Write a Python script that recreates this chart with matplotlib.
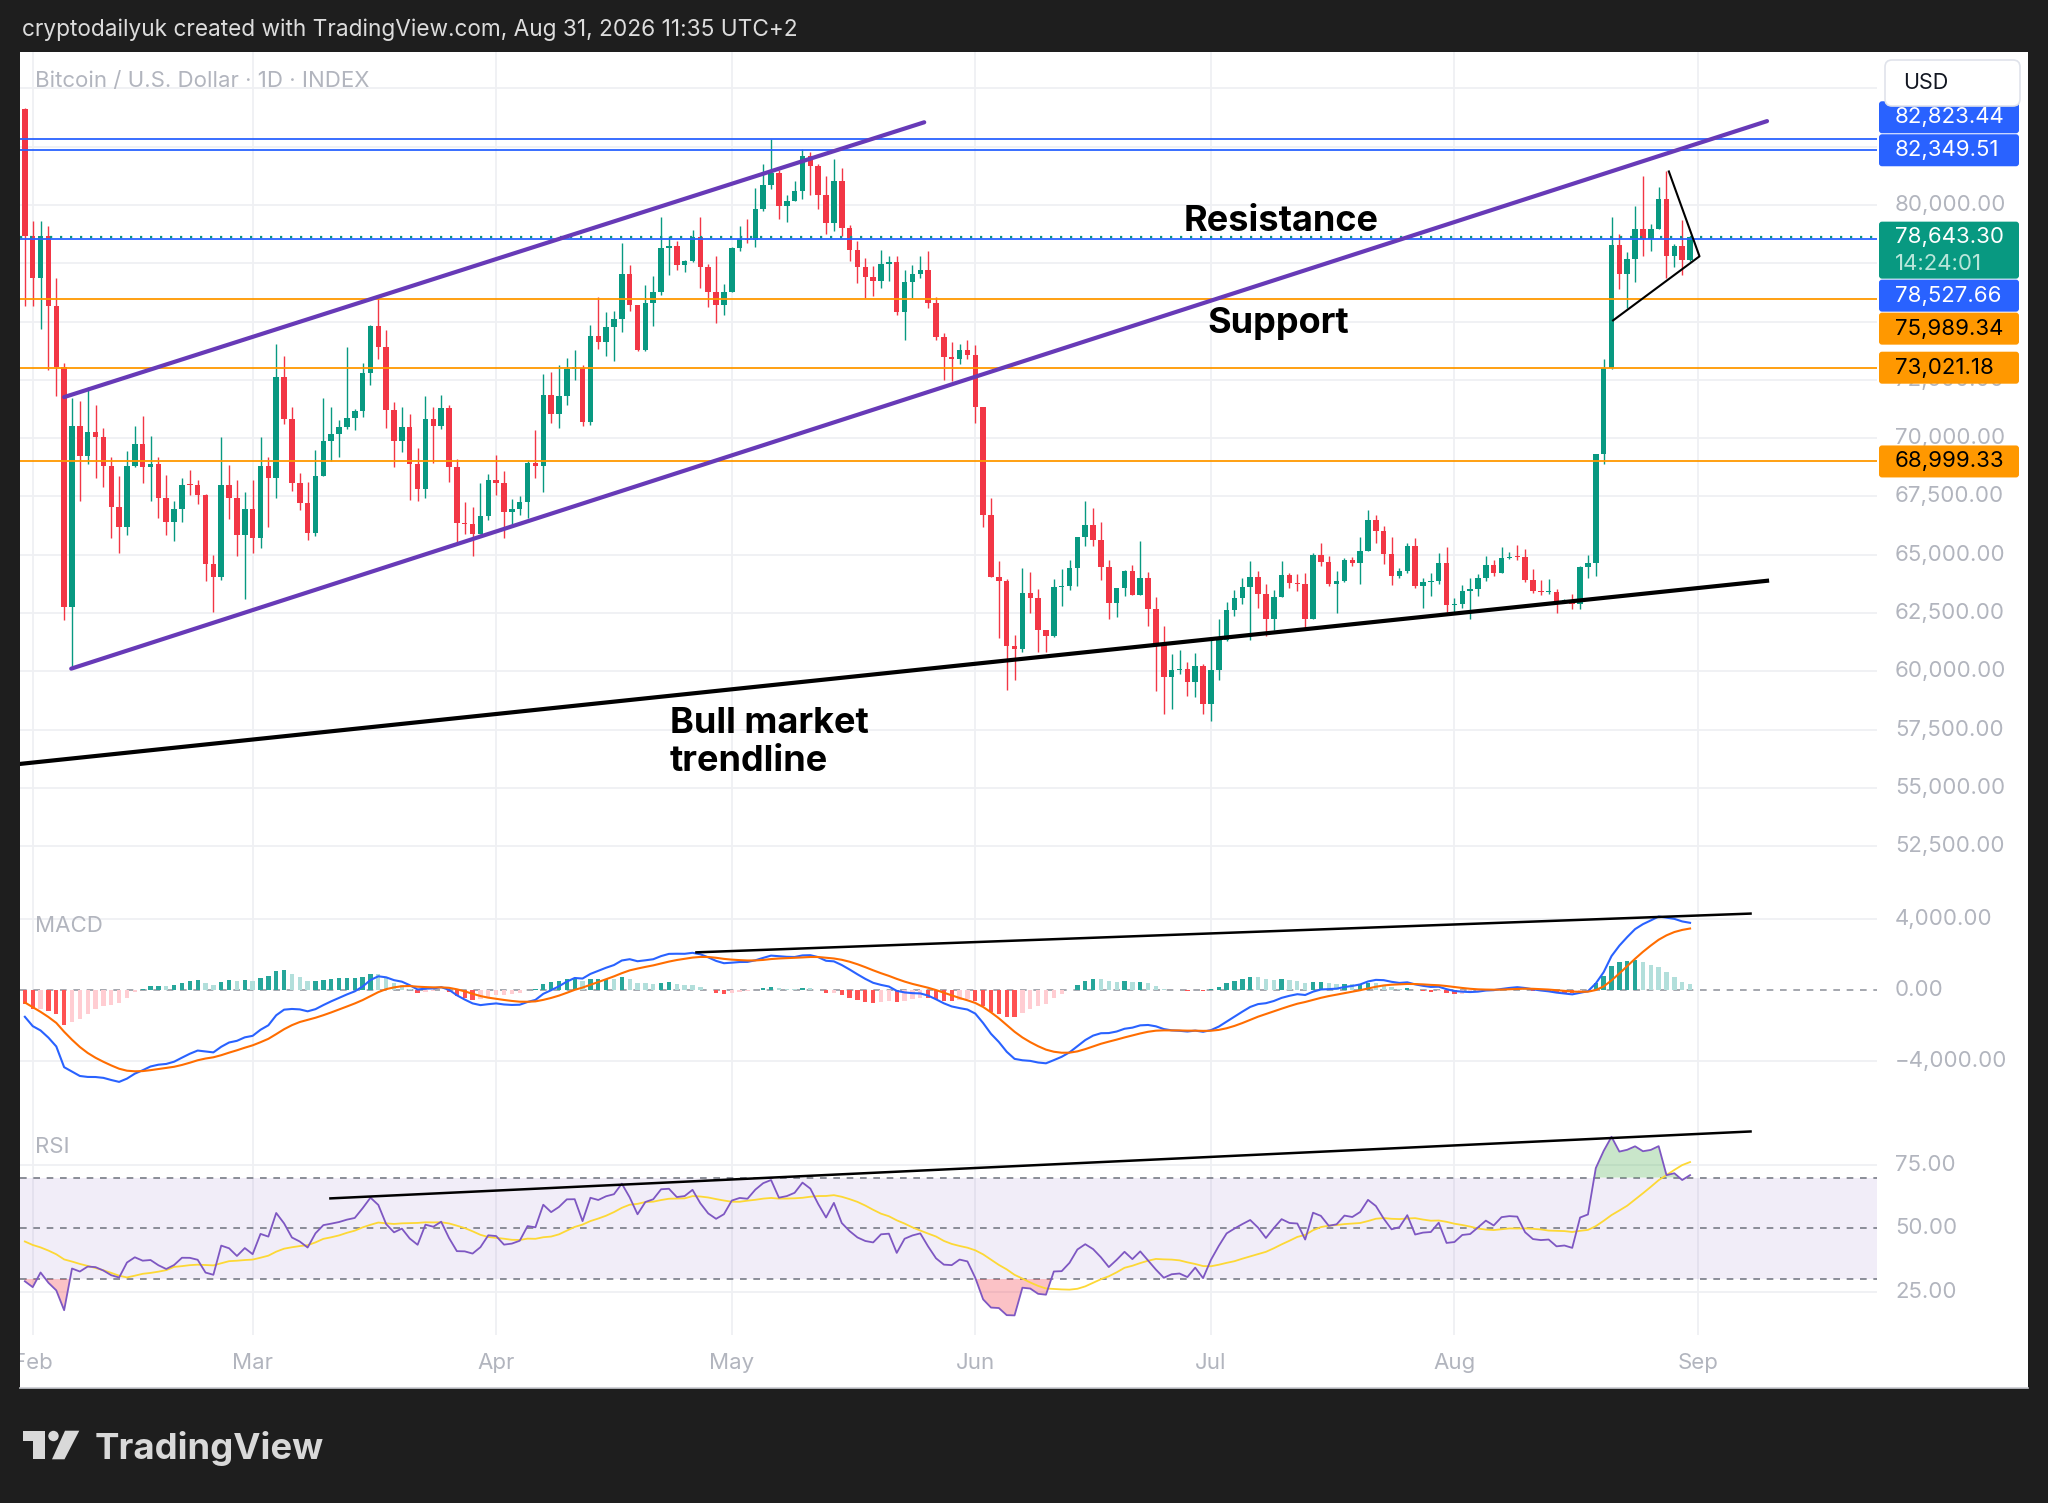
import numpy as np
import matplotlib
matplotlib.use("Agg")
import matplotlib.pyplot as plt
from matplotlib.patches import Rectangle, FancyBboxPatch, Polygon, Circle

plt.rcParams['font.family'] = ['Inter', 'DejaVu Sans']

W, H = 2048, 1503

# ---- daily candles, day 0 = Feb 1 2026, first value = Jan 31 ----
first_open = 84100
closes = [78660,
    # Feb
    76870, 78660, 75670, 73040, 62770, 70530, 69230, 70280, 70050, 68800,
    67040, 66170, 68800, 69760, 68770, 68880, 67450, 66390, 66960, 68000,
    67980, 67570, 64610, 64040, 68000, 67450, 65840, 66960,
    # Mar
    65730, 68800, 68310, 72630, 70820, 68060, 67210, 65930, 68360, 69890,
    70170, 70460, 70870, 71150, 72800, 74820, 73900, 71200, 69890, 70460,
    68880, 67820, 70820, 70500, 71280, 68770, 66340, 66300, 65890, 66670,
    68190,
    # Apr
    68080, 66820, 66940, 67250, 68940, 68800, 71860, 71040, 71800, 72970,
    72990, 70700, 74370, 74120, 74770, 75120, 77060, 75690, 73770, 75800,
    76280, 78160, 78260, 77420, 77590, 78620, 77330, 76280, 75700, 76280,
    # May
    78160, 78550, 78480, 79810, 80850, 81380, 79950, 80170, 80620, 82120,
    81670, 80450, 79240, 81050, 79020, 78090, 77330, 76900, 76730, 77490,
    77550, 75400, 76700, 77020, 77210, 75810, 74340, 73460, 73390, 73800,
    73580,
    # Jun
    71330, 66700, 64050, 63880, 61080, 60970, 63360, 63140, 61750, 61520,
    63610, 63640, 64420, 65740, 66290, 65630, 64460, 62910, 63570, 64320,
    63270, 63980, 62690, 61230, 59760, 60050, 60110, 59530, 60230, 58580,
    # Jul
    60050, 61330, 62610, 63130, 63610, 64050, 63320, 62260, 63200, 64130,
    63780, 63730, 62230, 64990, 64690, 63730, 63880, 64780, 64660, 65160,
    66480, 66020, 65020, 64090, 64280, 65380, 63660, 63830, 63880, 64660,
    62830,
    # Aug
    62900, 63450, 63520, 64020, 64550, 64210, 64840, 64920, 64890, 63920,
    63450, 63380, 63410, 62980, 63020, 62880, 64450, 64640, 69310, 72990,
    78280, 77030, 77680, 78960, 78560, 78990, 80250, 77820, 78250, 77650,
    78643.30]

highs = [84150,
    79320, 79320, 79120, 76890, 73210, 71730, 71610, 72190, 71400, 70450,
    69180, 68360, 69430, 70530, 70940, 70080, 69210, 68410, 67290, 68280,
    68650, 68190, 67620, 64990, 70030, 68850, 68190, 67700,
    68190, 70050, 69210, 74030, 73540, 71350, 68520, 68110, 69480, 71730,
    71350, 70770, 73900, 71270, 73210, 74850, 76000, 74640, 71560, 71350,
    71040, 69560, 71810, 71320, 71860, 71400, 69100, 67240, 67040, 68060,
    68470,
    69260, 68580, 67370, 67510, 69050, 70370, 72730, 72830, 73120, 73440,
    73800, 73120, 74870, 76060, 75400, 75470, 78350, 77420, 75690, 76590,
    76950, 79480, 78660, 78450, 77660, 78950, 79480, 77490, 77830, 76620,
    78180, 79090, 79410, 80740, 81770, 82820, 81520, 80410, 81020, 82410,
    82280, 81740, 81240, 81980, 81600, 79160, 78450, 77730, 77380, 78090,
    77810, 77830, 77210, 77430, 77800, 78020, 76060, 74490, 74120, 74020,
    74230,
    73980, 71330, 67430, 64710, 63940, 61550, 64420, 64270, 63540, 61730,
    63940, 64380, 64790, 65740, 67290, 66990, 66410, 64790, 63570, 64350,
    64570, 65600, 64270, 63170, 61920, 60750, 60890, 60380, 60790, 60300,
    61380, 62220, 62950, 63490, 63980, 64710, 64320, 63730, 63490, 64710,
    64230, 64160, 64230, 65090, 65490, 64950, 64310, 64840, 64880, 65770,
    66910, 66700, 66240, 65740, 64410, 65520, 65710, 63980, 64230, 65090,
    65350,
    63160, 63690, 63980, 64160, 64950, 64780, 65310, 65120, 65410, 65260,
    64380, 63920, 63950, 63520, 63090, 63310, 64520, 64980, 69310, 73390,
    79490, 78750, 77990, 79960, 81250, 79180, 80790, 81440, 78320, 79360,
    78680]

lows = [75670,
    75670, 74690, 72910, 71810, 62200, 60140, 67320, 68880, 68280, 67900,
    65730, 65070, 65860, 68740, 68060, 67290, 66580, 65860, 65600, 66420,
    67540, 67160, 63870, 62520, 63920, 66550, 64940, 63100,
    65070, 65270, 66170, 67450, 70610, 67750, 66930, 65650, 65810, 68360,
    69020, 69180, 70380, 70330, 70910, 72300, 73400, 70450, 68770, 69390,
    67340, 67320, 67450, 68930, 70410, 68110, 65560, 65890, 64960, 65980,
    66500,
    67540, 65720, 66290, 66720, 66580, 68300, 67680, 70660, 70440, 71400,
    72510, 70510, 70580, 73830, 73520, 73300, 74550, 75450, 73730, 73730,
    74800, 76120, 76980, 77230, 77130, 77550, 76450, 75630, 74950, 75300,
    76280, 78020, 78380, 78190, 79740, 80690, 79410, 79260, 80270, 80270,
    80410, 79840, 78740, 78880, 78660, 77590, 76660, 76020, 76090, 76450,
    76730, 75300, 74200, 76030, 76870, 75590, 74200, 72510, 72460, 73170,
    73390,
    70640, 66180, 64050, 61410, 59200, 59610, 60820, 62510, 60820, 60820,
    61480, 62800, 63490, 63640, 65380, 65380, 63910, 62260, 62320, 63240,
    63270, 63270, 61920, 59170, 58170, 58390, 59860, 58940, 58910, 58170,
    57880, 59640, 61290, 62390, 62880, 61330, 62700, 61520, 61770, 63170,
    63590, 63450, 61830, 62230, 64520, 63660, 62490, 63830, 64520, 63730,
    65140, 65520, 64590, 63690, 63980, 64230, 63550, 62730, 63230, 63730,
    62520,
    62520, 62730, 62260, 63230, 63880, 64090, 64230, 64810, 64780, 63810,
    63350, 63260, 63310, 62490, 62950, 62660, 62690, 63980, 64090, 68880,
    72960, 76390, 75600, 76680, 77820, 78030, 78960, 76850, 77360, 76990,
    77610]

month_names = ['Feb', 'Mar', 'Apr', 'May', 'Jun', 'Jul', 'Aug', 'Sep']
month_days = [0, 28, 59, 89, 120, 150, 181, 212]

blue_levels = [82823.44, 82349.51, 78527.66]
orange_levels = [75989.34, 73021.18, 68999.33]
last_price = 78643.30
countdown = '14:24:01'

# drawings (day, value)
chan_top_x, chan_top_y = [4, 113.5], [71760, 83550]
chan_bot_x, chan_bot_y = [4.9, 220.8], [60110, 83600]
bull_x, bull_y = [-2, 220.8], [56010, 63880]
wedge_x, wedge_y = [208.3, 212.2, 201.2], [81440, 77800, 75050]
macd_tr_x, macd_tr_y = [84.5, 218.7], [2130, 4320]
rsi_tr_x, rsi_tr_y = [37.9, 218.7], [61.8, 88.2]

# indicator warm-up state before Jan 31 (history not visible on chart)
ema12_seed, ema26_seed, signal_seed = 86000, 87000, -500
gain_seed, loss_seed, rsi_ma_seed = 500, 800, 46

closes = np.array(closes, float)
highs = np.array(highs, float)
lows = np.array(lows, float)
days = np.arange(-1, len(closes) - 1)
opens = np.r_[first_open, closes[:-1]]
highs = np.maximum(highs, np.maximum(opens, closes))
lows = np.minimum(lows, np.minimum(opens, closes))


def ema(vals, n, seed):
    out, e, a = [], seed, 2 / (n + 1)
    for v in vals:
        e = e + a * (v - e)
        out.append(e)
    return np.array(out)


macd = ema(closes, 12, ema12_seed) - ema(closes, 26, ema26_seed)
signal = ema(macd, 9, signal_seed)
hist = macd - signal
hprev = np.r_[hist[0], hist[:-1]]
hcols = np.where(hist >= 0, np.where(hist > hprev, '#26a69a', '#b2dfdb'),
                 np.where(hist > hprev, '#ffcdd2', '#ff5252'))

ag, al, rsi = gain_seed, loss_seed, []
for ch in np.diff(np.r_[first_open, closes]):
    ag = (ag * 13 + max(ch, 0)) / 14
    al = (al * 13 + max(-ch, 0)) / 14
    rsi.append(100 - 100 / (1 + ag / al))
rsi = np.array(rsi)
rsi_ma = np.convolve(np.r_[np.full(13, rsi_ma_seed), rsi], np.ones(14) / 14, 'valid')

UP, DOWN = '#089981', '#f23645'
GRID = '#eff0f3'
LBL = '#b2b5be'
DARK = '#1e1e1e'
PURPLE = '#673ab7'

fig = plt.figure(figsize=(W / 100, H / 100), dpi=100, facecolor='white')


def box(x0, y0, x1, y1):
    return [x0 / W, 1 - y1 / H, (x1 - x0) / W, (y1 - y0) / H]


ax = fig.add_axes(box(19.6, 52, 1877, 895))
axm = fig.add_axes(box(19.6, 895, 1877, 1115))
axr = fig.add_axes(box(19.6, 1115, 1877, 1335))
for a in (ax, axm, axr):
    a.set_xlim(-1.67, 234.8)
    a.set_xticks([])
    a.set_yticks([])
    for s in a.spines.values():
        s.set_visible(False)
    for m in month_days:
        a.axvline(m, color=GRID, lw=1.3, zorder=0)

# ---- main pane ----
ax.set_ylim(50400, 86565)
for v in range(52500, 87501, 2500):
    ax.axhline(v, color=GRID, lw=1.3, zorder=0)

col = np.where(closes >= opens, UP, DOWN)
ax.vlines(days, lows, highs, colors=col, lw=1.0, zorder=2)
ax.bar(days, np.maximum(np.abs(closes - opens), 60), bottom=np.minimum(opens, closes),
       width=0.7, color=col, linewidth=0, zorder=2.1)

for v in blue_levels:
    ax.axhline(v, color='#2962ff', lw=1.3, zorder=3)
for v in orange_levels:
    ax.axhline(v, color='#ff9800', lw=1.3, zorder=3)
ax.axhline(last_price, color=UP, lw=1.6, ls=(0, (1, 3.5)), zorder=3)

ax.plot(chan_top_x, chan_top_y, color=PURPLE, lw=3, solid_capstyle='round', zorder=4)
ax.plot(chan_bot_x, chan_bot_y, color=PURPLE, lw=3, solid_capstyle='round', zorder=4)
ax.plot(bull_x, bull_y, color='black', lw=3, zorder=4)
ax.plot(wedge_x, wedge_y, color='black', lw=1.5, zorder=4)

ax.text(159, 78900, 'Resistance', fontsize=26, fontweight='bold', ha='center', va='baseline', zorder=5)
ax.text(158.6, 74490, 'Support', fontsize=26, fontweight='bold', ha='center', va='baseline', zorder=5)
ax.text(81.1, 57362, 'Bull market', fontsize=26, fontweight='bold', ha='left', va='baseline', zorder=5)
ax.text(81.1, 55740, 'trendline', fontsize=26, fontweight='bold', ha='left', va='baseline', zorder=5)

# ---- MACD pane ----
axm.set_ylim(-7060, 5370)
for v in (4000, -4000):
    axm.axhline(v, color=GRID, lw=1.3, zorder=0)
axm.axhline(0, color='#9598a1', lw=1.2, ls=(0, (4, 4)), zorder=1)
axm.bar(days, hist, width=0.55, color=hcols, linewidth=0, zorder=2)
axm.plot(days, macd, color='#2962ff', lw=1.5, zorder=3)
axm.plot(days, signal, color='#ff6d00', lw=1.5, zorder=3)
axm.plot(macd_tr_x, macd_tr_y, color='black', lw=1.8, zorder=4)

# ---- RSI pane ----
axr.set_ylim(7.9, 94.7)
for v in (75, 25):
    axr.axhline(v, color=GRID, lw=1.3, zorder=0)
axr.axhspan(30, 70, color='#7e57c2', alpha=0.1, lw=0, zorder=0.5)
for v in (70, 50, 30):
    axr.axhline(v, color='#787b86', lw=1.2, ls=(0, (4, 4)), zorder=1)
axr.fill_between(days, rsi, 70, where=rsi > 70, interpolate=True, color='#4caf50', alpha=0.3, lw=0, zorder=1.5)
axr.fill_between(days, rsi, 30, where=rsi < 30, interpolate=True, color='#f23645', alpha=0.3, lw=0, zorder=1.5)
axr.plot(days, rsi_ma, color='#fdd835', lw=1.3, zorder=2)
axr.plot(days, rsi, color='#7e57c2', lw=1.3, zorder=3)
axr.plot(rsi_tr_x, rsi_tr_y, color='black', lw=1.8, zorder=4)

# ---- overlay in pixel coordinates: scales, tags, frame ----
ov = fig.add_axes([0, 0, 1, 1])
ov.set_xlim(0, W)
ov.set_ylim(H, 0)
ov.axis('off')
ov.set_zorder(10)


def ypix(a, v):
    return H - a.transData.transform((0, v))[1]


def xpix(a, d):
    return a.transData.transform((d, 0))[0]


LX = 1895


def tag(t, b, face, label, tcol):
    ov.add_patch(FancyBboxPatch((1879, t), 140, b - t, boxstyle='round,pad=0,rounding_size=3',
                                fc=face, ec='none', zorder=5))
    ov.text(LX, (t + b) / 2, label, fontsize=16, color=tcol, va='center', zorder=6)


# price tags stacked so they do not overlap (as the platform does)
spans = [(60, 106)]  # USD box
ly = ypix(ax, last_price)
t_last, b_last = ly - 15, ly + 42
spans.append((t_last, b_last))
ov.add_patch(FancyBboxPatch((1879, t_last), 140, b_last - t_last, boxstyle='round,pad=0,rounding_size=3',
                            fc=UP, ec='none', zorder=5))
ov.text(LX, ly, f'{last_price:,.2f}', fontsize=16, color='white', va='center', zorder=6)
ov.text(LX, ly + 27, countdown, fontsize=16, color='#b9e6da', va='center', zorder=6)

prev = t_last
for v in sorted([v for v in blue_levels if v > last_price]):
    b = min(ypix(ax, v) + 16, prev - 1)
    tag(b - 32, b, '#2962ff', f'{v:,.2f}', 'white')
    spans.append((b - 32, b))
    prev = b - 32
prev = b_last
below = [(v, '#2962ff', 'white') for v in blue_levels if v < last_price] + \
        [(v, '#ff9800', 'black') for v in orange_levels]
for v, c, tc in sorted(below, key=lambda r: -r[0]):
    t = max(ypix(ax, v) - 16, prev + 1)
    tag(t, t + 32, c, f'{v:,.2f}', tc)
    spans.append((t, t + 32))
    prev = t + 32

# price scale labels (those fully hidden behind a tag are not drawn)
for v in range(52500, 87501, 2500):
    y = ypix(ax, v)
    hidden = any(t - 2 <= y - 8 and y + 4 <= b for t, b in spans)
    if 60 < y < 885 and not hidden:
        ov.text(LX, y, f'{v:,.2f}', fontsize=16, color=LBL, va='center', zorder=3)
for v, s in ((4000, '4,000.00'), (0, '0.00'), (-4000, '\u22124,000.00')):
    ov.text(LX, ypix(axm, v), s, fontsize=16, color=LBL, va='center', zorder=3)
for v in (75, 50, 25):
    ov.text(LX, ypix(axr, v), f'{v:.2f}', fontsize=16, color=LBL, va='center', zorder=3)
for m, name in zip(month_days, month_names):
    ov.text(xpix(axr, m), 1363, name, fontsize=16, color=LBL, ha='center', va='center', zorder=3)

ov.text(35, 81, 'Bitcoin / U.S. Dollar \u00b7 1D \u00b7 INDEX', fontsize=16, color=LBL, va='center', zorder=3)
ov.text(35, 926, 'MACD', fontsize=16, color=LBL, va='center', zorder=3)
ov.text(35, 1147, 'RSI', fontsize=16, color=LBL, va='center', zorder=3)

ov.add_patch(FancyBboxPatch((1885, 60), 135, 46, boxstyle='round,pad=0,rounding_size=7',
                            fc='white', ec='#e0e3eb', lw=1.2, zorder=7))
ov.text(1903, 83, 'USD', fontsize=15.5, color='#131722', va='center', zorder=8)

# dark frame
for r in ((0, 0, 19.6, H), (0, 0, W, 52), (2028, 0, W - 2028, H), (0, 1388, W, H - 1388)):
    ov.add_patch(Rectangle((r[0], r[1]), r[2], r[3], fc=DARK, ec='none', zorder=9))
ov.plot([19.6, 2028], [1388, 1388], color='#c9cbd1', lw=1.2, zorder=9.5)

ov.text(22, 30, 'cryptodailyuk created with TradingView.com, Aug 31, 2026 11:35 UTC+2',
        fontsize=16.3, color='#dcdcdc', va='center', zorder=10)

# TradingView logo
LOGO = '#d9d9d9'
ov.add_patch(Rectangle((23, 1430.7), 22, 10, fc=LOGO, ec='none', zorder=10))
ov.add_patch(Rectangle((33.3, 1430.7), 11.7, 28.6, fc=LOGO, ec='none', zorder=10))
ov.add_patch(Circle((53.5, 1436), 5.2, fc=LOGO, ec='none', zorder=10))
ov.add_patch(Polygon([(65, 1430.7), (79.3, 1430.7), (64.5, 1459.3), (52, 1459.3)],
                     closed=True, fc=LOGO, ec='none', zorder=10))
ov.text(95, 1459.3, 'TradingView', fontsize=26.3, fontweight='bold', color=LOGO, va='baseline', zorder=10)

fig.savefig('out.png', dpi=100, facecolor='white')
